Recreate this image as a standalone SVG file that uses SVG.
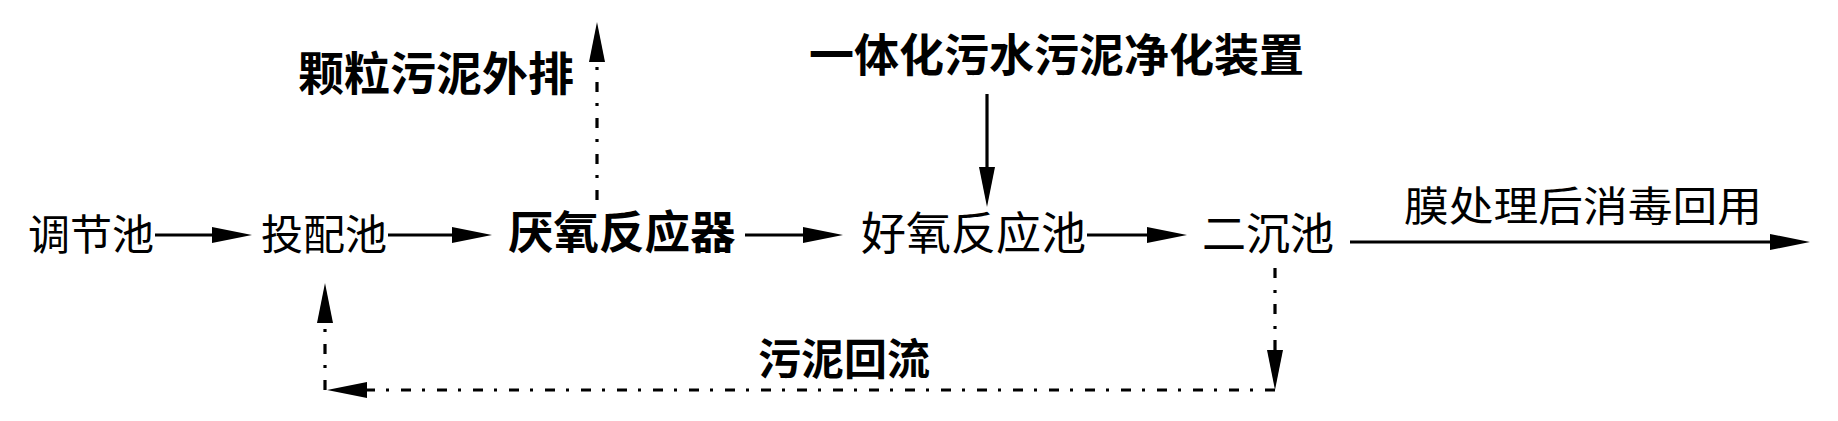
<svg xmlns="http://www.w3.org/2000/svg" width="1838" height="421" viewBox="0 0 1838 421">
<style>
.t{font-family:"Noto Sans CJK SC","Noto Sans",sans-serif;fill:#000}
.b{font-weight:bold}
.s{fill:none;stroke:#000;stroke-width:3.2}
.d{fill:none;stroke:#000;stroke-width:3.2;stroke-dasharray:10 12 3 11}
</style>
<defs>
<marker id="ah" markerUnits="userSpaceOnUse" viewBox="0 0 40 16" markerWidth="40" markerHeight="16" refX="0" refY="8" orient="auto">
<path d="M0,0 L40,8 L0,16 z" fill="#000"/>
</marker>
</defs>
<rect width="1838" height="421" fill="#fff"/>
<g id="connectors">
<path class="s" d="M155,235 H212" marker-end="url(#ah)"/>
<path class="s" d="M388,235 H452" marker-end="url(#ah)"/>
<path class="s" d="M745,235 H803" marker-end="url(#ah)"/>
<path class="s" d="M1087,235 H1147" marker-end="url(#ah)"/>
<path class="s" d="M1350,242 H1770" marker-end="url(#ah)"/>
<path class="s" d="M987,94 V167" marker-end="url(#ah)"/>
<path class="d" d="M597,200 V62" marker-end="url(#ah)"/>
<path class="d" d="M1275,268 V350" marker-end="url(#ah)"/>
<path class="d" d="M1275,390 H367" marker-end="url(#ah)"/>
<path class="d" d="M325,390 V323" marker-end="url(#ah)"/>
</g>
<g id="n1"><text class="t" x="28" y="250" font-size="42">调节池</text></g>
<g id="n2"><text class="t" x="261" y="250" font-size="42">投配池</text></g>
<g id="n3"><text class="t b" x="508" y="249" font-size="45.5">厌氧反应器</text></g>
<g id="n4"><text class="t" x="861" y="250" font-size="45">好氧反应池</text></g>
<g id="n5"><text class="t" x="1202" y="250" font-size="44">二沉池</text></g>
<g id="n6"><text class="t" x="1404" y="221" font-size="41" textLength="358" lengthAdjust="spacingAndGlyphs">膜处理后消毒回用</text></g>
<g id="n7"><text class="t b" x="298" y="90" font-size="46">颗粒污泥外排</text></g>
<g id="n8"><text class="t b" x="809" y="72" font-size="45">一体化污水污泥净化装置</text></g>
<g id="n9"><text class="t b" x="758" y="375" font-size="43">污泥回流</text></g>
</svg>
